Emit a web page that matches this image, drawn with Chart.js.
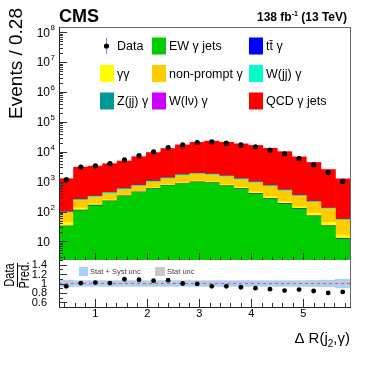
<!DOCTYPE html>
<html>
<head>
<meta charset="utf-8">
<script src="https://cdn.jsdelivr.net/npm/chart.js@4.4.1/dist/chart.umd.min.js"></script>
<style>
  body { margin: 0; background: #fff; }
  #wrap { position: relative; width: 389px; height: 373px; }
  #wrap canvas { position: absolute; left: 0; top: 0; }
</style>
</head>
<body>
<div id="wrap">
  <canvas id="mainChart" width="389" height="373"></canvas>
  <canvas id="ratioChart" width="389" height="373"></canvas>
</div>
<script>
// bins of Delta R(j2, gamma), width 0.28
const binCenters = [0.44, 0.72, 1.00, 1.28, 1.56, 1.84, 2.12, 2.40, 2.68, 2.96,
                    3.24, 3.52, 3.80, 4.08, 4.36, 4.64, 4.92, 5.20, 5.48, 5.76];
const xMin = 0.3, xMax = 5.9;
const xTickLabels = [1, 2, 3, 4, 5];

// events per bin
const dataCounts   = [1170, 3100, 3400, 4050, 5400, 7400, 10000, 13800, 17000, 20500,
                      21500, 19500, 17000, 14700, 11500, 8600, 5900, 3700, 2040, 1020];
const ewGammaJets  = [32, 108, 158, 219, 325, 440, 585, 740, 830, 960,
                      900, 710, 575, 395, 265, 180, 123, 69, 32, 12];
const ttGamma      = [1, 4, 6, 8, 11, 14, 17, 20, 22, 24, 22, 19, 15, 11, 8, 6, 4, 3, 1.5, 0.6];
const diphoton     = [10, 20, 15, 22, 22, 25, 35, 60, 70, 80, 75, 70, 65, 55, 45, 30, 18, 17, 10, 4];
const nonPrompt    = [49, 105, 125, 150, 180, 220, 320, 420, 670, 720,
                      680, 650, 510, 450, 370, 275, 180, 115, 80, 35];
const wjjGamma     = [4, 14, 18, 30, 35, 50, 70, 80, 90, 100, 95, 85, 70, 55, 40, 30, 20, 12, 6, 3];
const zjjGamma     = [1, 3, 4, 5, 7, 9, 12, 14, 16, 18, 17, 15, 12, 9, 7, 5, 3, 2, 1, 0.5];
const wlnuGamma    = [2, 2, 3, 3, 4, 5, 6, 7, 8, 9, 8, 7, 6, 5, 4, 3, 2, 1.5, 1, 0.5];
const qcdGammaJets = [1160, 2810, 3000, 3570, 4330, 6090, 8390, 11560, 15300, 18800,
                      21080, 19190, 17220, 15350, 12330, 9590, 6430, 4185, 2420, 1190];

// ratio panel
const ratioValues = [0.94, 1.01, 1.02, 1.01, 1.09, 1.08, 1.06, 1.07, 1.00, 0.99,
                     0.94, 0.94, 0.92, 0.90, 0.88, 0.85, 0.87, 0.84, 0.80, 0.82];
const systUnc = [0.07, 0.06, 0.06, 0.06, 0.06, 0.06, 0.06, 0.06, 0.06, 0.06,
                 0.06, 0.06, 0.06, 0.06, 0.06, 0.06, 0.06, 0.065, 0.07, 0.09];
const statUnc = [0.01, 0.006, 0.006, 0.005, 0.005, 0.004, 0.004, 0.003, 0.003, 0.003,
                 0.003, 0.003, 0.003, 0.003, 0.004, 0.004, 0.005, 0.006, 0.008, 0.012];
const ratioTicks = [0.6, 0.8, 1, 1.2, 1.4];

const legendLabels = ['Data', 'EW \u03b3 jets', 'tt\u0304 \u03b3',
                      '\u03b3\u03b3', 'non-prompt \u03b3', 'W(jj) \u03b3',
                      'Z(jj) \u03b3', 'W(l\u03bd) \u03b3', 'QCD \u03b3 jets'];

const FONT = '"Liberation Sans", Arial, Helvetica, sans-serif';
Chart.defaults.font.family = FONT;

const stackDefs = [
  { label: 'EW \u03b3 jets', values: ewGammaJets, color: '#00cc00' },
  { label: 'tt\u0304 \u03b3', values: ttGamma, color: '#0000ff' },
  { label: '\u03b3\u03b3', values: diphoton, color: '#ffff00' },
  { label: 'non-prompt \u03b3', values: nonPrompt, color: '#ffcc00' },
  { label: 'W(jj) \u03b3', values: wjjGamma, color: '#00ffcc' },
  { label: 'Z(jj) \u03b3', values: zjjGamma, color: '#009999' },
  { label: 'W(l\u03bd) \u03b3', values: wlnuGamma, color: '#cc00ff' },
  { label: 'QCD \u03b3 jets', values: qcdGammaJets, color: '#ff0000' }
];
const colorOf = {};
stackDefs.forEach(s => colorOf[s.label] = s.color);

function line(ctx, x1, y1, x2, y2) {
  ctx.beginPath(); ctx.moveTo(x1, y1); ctx.lineTo(x2, y2); ctx.stroke();
}

function drawXTicks(ctx, x, yBase, majorLen, minorLen) {
  for (let v = 0.4; v < xMax; v += 0.2) {
    const r = Math.round(v * 10) / 10;
    const px = Math.round(x.getPixelForValue(r)) + 0.5;
    const len = Number.isInteger(r) ? majorLen : minorLen;
    line(ctx, px, yBase, px, yBase - len);
  }
}

const mainDecor = {
  id: 'mainDecor',
  afterDraw(chart) {
    const { ctx, chartArea: a, scales: { x, y } } = chart;
    ctx.save();
    ctx.lineWidth = 1;
    // frame
    ctx.strokeStyle = '#666';
    line(ctx, a.left, a.top + 0.5, a.right, a.top + 0.5);
    line(ctx, a.right + 0.5, a.top, a.right + 0.5, a.bottom);
    ctx.strokeStyle = '#222';
    line(ctx, a.left + 0.5, a.top, a.left + 0.5, a.bottom);

    // log y ticks
    ctx.strokeStyle = '#333';
    for (let e = 0; e <= 8; e++) {
      for (let m = 1; m < 10; m++) {
        const v = m * Math.pow(10, e);
        if (v < y.min || v > y.max) continue;
        const py = Math.round(y.getPixelForValue(v)) + 0.5;
        line(ctx, a.left, py, a.left + (m === 1 ? 8 : 4), py);
      }
    }
    drawXTicks(ctx, x, a.bottom, 7, 3.5);

    // y labels 10^n
    ctx.fillStyle = '#000';
    for (let e = 1; e <= 8; e++) {
      const py = y.getPixelForValue(Math.pow(10, e));
      ctx.font = '12px ' + FONT;
      ctx.textAlign = 'right'; ctx.textBaseline = 'middle';
      ctx.fillText('10', 50, py + 1);
      if (e > 1) {
        ctx.font = '8px ' + FONT;
        ctx.textAlign = 'left';
        ctx.fillText(String(e), 50.5, py - 4);
      }
    }

    // y title
    ctx.save();
    ctx.translate(22, 8);
    ctx.rotate(-Math.PI / 2);
    ctx.font = '19px ' + FONT;
    ctx.textAlign = 'right'; ctx.textBaseline = 'alphabetic';
    ctx.fillText('Events / 0.28', 0, 0);
    ctx.restore();

    // CMS + lumi
    ctx.textBaseline = 'alphabetic';
    ctx.textAlign = 'left';
    ctx.font = 'bold 18px ' + FONT;
    ctx.fillText('CMS', 59, 22);
    const lumiParts = [['138 fb', 'bold 12px ' + FONT, 0], ['-1', 'bold 7px ' + FONT, -5], [' (13 TeV)', 'bold 12px ' + FONT, 0]];
    let w = 0;
    lumiParts.forEach(p => { ctx.font = p[1]; w += ctx.measureText(p[0]).width; });
    let lx = 347 - w;
    lumiParts.forEach(p => { ctx.font = p[1]; ctx.fillText(p[0], lx, 21 + p[2]); lx += ctx.measureText(p[0]).width; });

    // legend, 3 x 3
    const rowY = [46, 73.5, 101];
    const colX = [100, 152, 249];
    ctx.font = '12.5px ' + FONT;
    ctx.textBaseline = 'middle';
    legendLabels.forEach((lab, i) => {
      const cx = colX[i % 3], cy = rowY[Math.floor(i / 3)];
      if (lab === 'Data') {
        ctx.strokeStyle = '#8080ff';
        line(ctx, cx + 6.5, cy - 8, cx + 6.5, cy + 8);
        ctx.fillStyle = '#000';
        ctx.beginPath(); ctx.arc(cx + 6.5, cy, 2.6, 0, Math.PI * 2); ctx.fill();
      } else {
        ctx.fillStyle = colorOf[lab];
        ctx.fillRect(cx, cy - 8.5, 14, 17);
      }
      ctx.fillStyle = '#000';
      ctx.fillText(lab, cx + 17, cy + 1);
    });
    ctx.restore();
  }
};

const ratioDecor = {
  id: 'ratioDecor',
  afterDraw(chart) {
    const { ctx, chartArea: a, scales: { x, y } } = chart;
    ctx.save();
    ctx.lineWidth = 1;
    ctx.strokeStyle = '#666';
    line(ctx, a.right + 0.5, a.top, a.right + 0.5, a.bottom);
    ctx.strokeStyle = '#222';
    line(ctx, a.left + 0.5, a.top, a.left + 0.5, a.bottom);
    line(ctx, a.left, a.bottom + 0.5, a.right + 1, a.bottom + 0.5);

    ctx.strokeStyle = '#333';
    for (let v = 0.5; v <= 1.5001; v += 0.1) {
      const r = Math.round(v * 10) / 10;
      const py = Math.round(y.getPixelForValue(r)) + 0.5;
      const major = ratioTicks.includes(r);
      line(ctx, a.left, py, a.left + (major ? 8 : 4), py);
    }
    drawXTicks(ctx, x, a.bottom, 8, 4);

    ctx.fillStyle = '#000';
    ctx.font = '11px ' + FONT;
    ctx.textAlign = 'right'; ctx.textBaseline = 'middle';
    ratioTicks.forEach(t => ctx.fillText(String(t), 47, y.getPixelForValue(t) + 0.5));
    ctx.textAlign = 'center';
    xTickLabels.forEach(t => ctx.fillText(String(t), x.getPixelForValue(t), 314));

    // x title with subscript
    ctx.textAlign = 'left'; ctx.textBaseline = 'alphabetic';
    const parts = [['\u0394 R(j', '15px ' + FONT, 0], ['2', '10px ' + FONT, 4], [',\u03b3)', '15px ' + FONT, 0]];
    let w = 0;
    parts.forEach(p => { ctx.font = p[1]; w += ctx.measureText(p[0]).width; });
    let tx = 350 - w;
    parts.forEach(p => { ctx.font = p[1]; ctx.fillText(p[0], tx, 343 + p[2]); tx += ctx.measureText(p[0]).width; });

    // Data / Pred. title
    ctx.font = '14px ' + FONT;
    ctx.textAlign = 'center';
    [['Data', 14], ['Pred.', 29]].forEach(([s, bx]) => {
      ctx.save();
      ctx.translate(bx, 275);
      ctx.rotate(-Math.PI / 2);
      ctx.scale(0.8, 1);
      ctx.fillText(s, 0, 0);
      ctx.restore();
    });
    ctx.strokeStyle = '#000';
    line(ctx, 17.5, 263, 17.5, 287);

    // band legend
    ctx.fillStyle = '#a8d0f8';
    ctx.fillRect(79, 267, 9, 9);
    ctx.fillStyle = '#c8c8c8';
    ctx.fillRect(155, 267, 10, 9);
    ctx.fillStyle = '#444';
    ctx.font = '7.5px ' + FONT;
    ctx.textAlign = 'left'; ctx.textBaseline = 'middle';
    ctx.fillText('Stat + Syst unc', 90, 272);
    ctx.fillText('Stat unc', 167, 272);
    ctx.restore();
  }
};

const mainDatasets = [{
  type: 'line',
  label: 'Data',
  data: binCenters.map((c, i) => ({ x: c, y: dataCounts[i] })),
  showLine: false,
  pointRadius: 2.6,
  pointBorderWidth: 0,
  pointBackgroundColor: '#000',
  stack: 'data',
  order: 0
}];
stackDefs.forEach(s => {
  mainDatasets.push({
    type: 'bar',
    label: s.label,
    data: binCenters.map((c, i) => ({ x: c, y: s.values[i] })),
    backgroundColor: s.color,
    borderWidth: 0,
    barPercentage: 1,
    categoryPercentage: 1,
    order: 1
  });
});

new Chart(document.getElementById('mainChart'), {
  type: 'bar',
  data: { datasets: mainDatasets },
  options: {
    responsive: false,
    animation: false,
    events: [],
    layout: { padding: { left: 59, right: 39, top: 27, bottom: 113 } },
    plugins: { legend: { display: false }, tooltip: { enabled: false } },
    scales: {
      x: { type: 'linear', min: xMin, max: xMax, offset: false, stacked: true, display: false, bounds: 'data' },
      y: { type: 'logarithmic', min: 2.4, max: 1.5e8, stacked: true, display: false, bounds: 'data' }
    }
  },
  plugins: [mainDecor]
});

new Chart(document.getElementById('ratioChart'), {
  type: 'bar',
  data: {
    datasets: [
      {
        type: 'line',
        data: binCenters.map((c, i) => ({ x: c, y: ratioValues[i] })),
        showLine: false,
        pointRadius: 2.4,
        pointBorderWidth: 0,
        pointBackgroundColor: '#000',
        order: 0
      },
      {
        type: 'line',
        data: [{ x: xMin, y: 1 }, { x: xMax, y: 1 }],
        borderColor: '#ff5050',
        borderWidth: 1,
        borderDash: [3, 3],
        pointRadius: 0,
        order: 1
      },
      {
        type: 'bar',
        data: binCenters.map((c, i) => ({ x: c, y: [1 - statUnc[i], 1 + statUnc[i]] })),
        backgroundColor: '#c8c8c8',
        borderWidth: 0,
        grouped: false,
        barPercentage: 1,
        categoryPercentage: 1,
        order: 2
      },
      {
        type: 'bar',
        data: binCenters.map((c, i) => ({ x: c, y: [1 - systUnc[i], 1 + systUnc[i]] })),
        backgroundColor: '#a8d0f8',
        borderWidth: 0,
        grouped: false,
        barPercentage: 1,
        categoryPercentage: 1,
        order: 3
      }
    ]
  },
  options: {
    responsive: false,
    animation: false,
    events: [],
    layout: { padding: { left: 59, right: 39, top: 260, bottom: 66 } },
    plugins: { legend: { display: false }, tooltip: { enabled: false } },
    scales: {
      x: { type: 'linear', min: xMin, max: xMax, offset: false, display: false, bounds: 'data' },
      y: { type: 'linear', min: 0.5, max: 1.5, display: false, bounds: 'data' }
    }
  },
  plugins: [ratioDecor]
});
</script>
</body>
</html>
